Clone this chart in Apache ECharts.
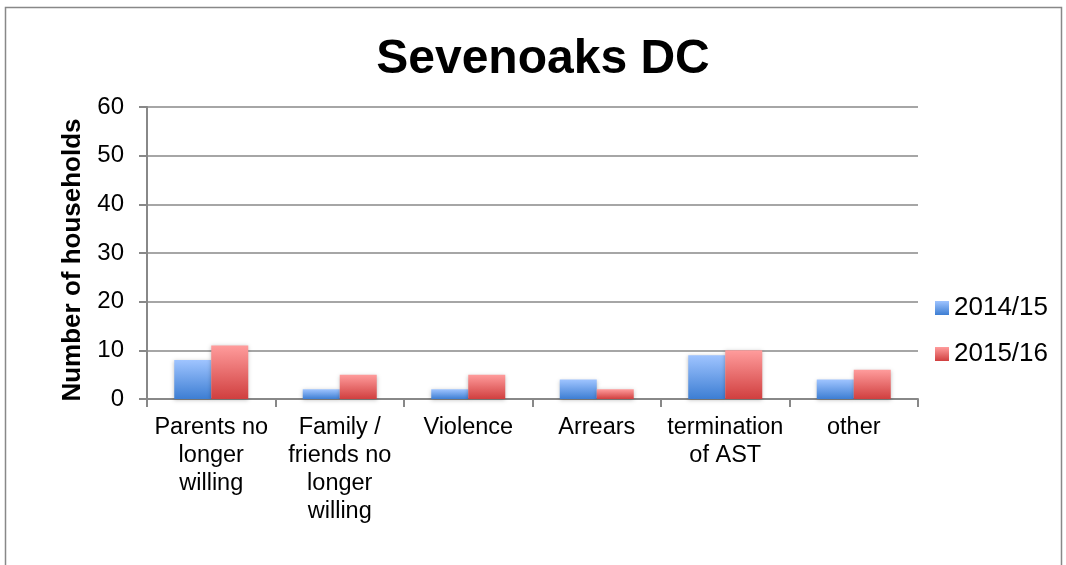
<!DOCTYPE html>
<html><head><meta charset="utf-8">
<script src="https://cdn.jsdelivr.net/npm/echarts@6/dist/echarts.min.js"></script>
<style>html,body{margin:0;padding:0;background:#fff}#c{width:1066px;height:565px}</style>
</head><body><div id="c"></div>
<script>
const categories = ["Parents no\nlonger\nwilling", "Family /\nfriends no\nlonger\nwilling", "Violence", "Arrears", "termination\nof AST", "other"];
const series2014 = [8, 2, 2, 4, 9, 4];
const series2015 = [11, 5, 5, 2, 10, 6];
const seriesNames = ["2014/15", "2015/16"];
const yTicks = {min: 0, max: 60, interval: 10};

const chart = echarts.init(document.getElementById('c'));
const grad = (top, bottom) => new echarts.graphic.LinearGradient(0, 0, 0, 1, [{offset: 0, color: top}, {offset: 1, color: bottom}]);
const F = '"Liberation Sans", Arial, sans-serif';
chart.setOption({
  animation: false,
  title: {text: 'Sevenoaks DC', left: 538, top: 31, textAlign: 'center',
    textStyle: {fontFamily: F, fontSize: 48, fontWeight: 'bold', color: '#000'}},
  graphic: [{type: 'rect', shape: {x: 5.5, y: 7.5, width: 1056, height: 600},
    style: {fill: 'none', stroke: '#888', lineWidth: 1.5}}],
  legend: {orient: 'vertical', left: 930, top: 290, itemWidth: 14, itemHeight: 14, itemGap: 20,
    icon: 'rect', textStyle: {fontFamily: F, fontSize: 26, color: '#000'}, data: seriesNames},
  grid: {left: 147, right: 148, top: 107, bottom: 166},
  xAxis: {type: 'category', data: categories,
    axisLine: {lineStyle: {color: '#888', width: 2}},
    axisTick: {show: true, length: 8, lineStyle: {color: '#888', width: 2}},
    axisLabel: {fontFamily: F, fontSize: 23.5, color: '#000', lineHeight: 28, margin: 15, interval: 0}},
  yAxis: {type: 'value', min: yTicks.min, max: yTicks.max, interval: yTicks.interval,
    name: 'Number of households', nameLocation: 'middle', nameGap: 61,
    nameTextStyle: {fontFamily: F, fontSize: 26, fontWeight: 'bold', color: '#000', padding: [0, 14, 0, 0]},
    axisLine: {show: true, lineStyle: {color: '#888', width: 2}},
    axisTick: {show: true, length: 8, lineStyle: {color: '#888', width: 2}},
    splitLine: {lineStyle: {color: '#888', width: 1.5}},
    axisLabel: {fontFamily: F, fontSize: 24, color: '#000', margin: 23}},
  series: [
    {name: seriesNames[0], type: 'bar', data: series2014, barWidth: 37, barGap: '0%',
      itemStyle: {color: grad('#9fc4ff', '#3d7ed3'), shadowColor: 'rgba(0,0,0,0.25)', shadowBlur: 4, shadowOffsetY: 1}},
    {name: seriesNames[1], type: 'bar', data: series2015, barWidth: 37, barGap: '0%',
      itemStyle: {color: grad('#ff9c9c', '#d03f3f'), shadowColor: 'rgba(0,0,0,0.25)', shadowBlur: 4, shadowOffsetY: 1}}
  ]
});
</script></body></html>
